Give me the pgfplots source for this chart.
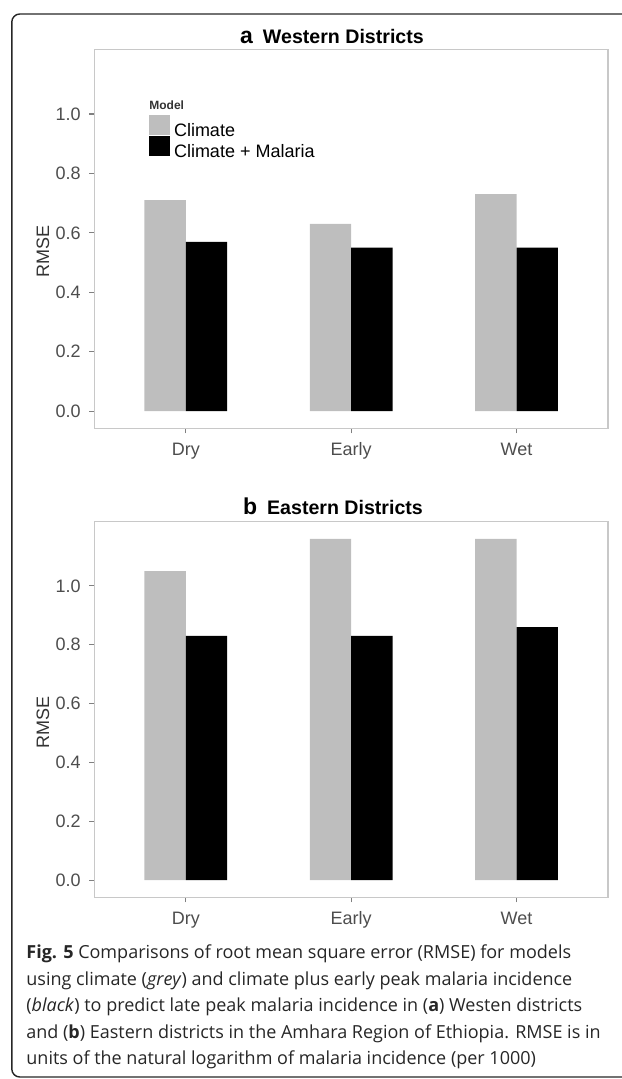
\documentclass[border=0pt]{standalone}
\usepackage{fontspec}
\setmainfont{Liberation Sans}
\newfontfamily\capfont{Open Sans}
\usepackage{pgfplots}
\pgfplotsset{compat=1.18}
\definecolor{bargrey}{HTML}{BEBEBE}
\definecolor{tickgrey}{HTML}{4D4D4D}
\definecolor{framegrey}{HTML}{C8C8C8}

\pgfplotsset{
  rmse/.style={
    scale only axis,
    width=256.85pt,
    xmin=-0.553, xmax=2.553,
    ymin=-0.058, ymax=1.218,
    xtick={0,1,2}, xticklabels={Dry,Early,Wet},
    ytick={0,0.2,0.4,0.6,0.8,1.0},
    /pgf/number format/assume math mode=true,
    yticklabel style={/pgf/number format/fixed, /pgf/number format/fixed zerofill, /pgf/number format/precision=1},
    tick label style={font=\fontsize{9}{9}\selectfont, text=tickgrey, inner sep=0pt},
    xticklabel style={anchor=base, yshift=-11.3pt},
    yticklabel style={anchor=east, xshift=-4.15pt},
    axis line style={framegrey, line width=0.65pt},
    tick style={black!50, line width=0.55pt},
    major tick length=2.5pt, tick align=outside, tick pos=left,
    ylabel={RMSE},
    ylabel style={at={(axis description cs:-0.1,0.466)}, anchor=center, font=\fontsize{9}{9}\selectfont, text=black!80, inner sep=0pt},
    clip=false,
  },
  greybar/.style={ybar, bar width=0.25, bar shift=-0.125, fill=bargrey, draw=none,
    legend image code/.code={\fill[bargrey] (0pt,-1.9pt) rectangle (10.5pt,8.35pt);}},
  blackbar/.style={ybar, bar width=0.25, bar shift=0.125, fill=black, draw=none,
    legend image code/.code={\fill[black] (0pt,-1.9pt) rectangle (10.5pt,8.35pt);}},
}

\pgfplotstableread{
x grey black
0 0.71 0.57
1 0.63 0.55
2 0.73 0.55
}\westdata

\pgfplotstableread{
x grey black
0 1.05 0.83
1 1.16 0.83
2 1.16 0.86
}\eastdata

\begin{document}
\begin{tikzpicture}
\path[use as bounding box] (0pt,0pt) rectangle (310.5pt,-539.5pt);
\draw[black!85, line width=0.7pt, rounded corners=4pt] (5.9pt,-7pt) rectangle (340pt,-538.5pt);

% Panel a
\begin{axis}[rmse, height=189.5pt, at={(47.15pt,-214.15pt)}, anchor=south west,
  legend style={at={(0.1065,0.8267)}, anchor=north west, draw=none, fill=none,
    inner sep=0pt, outer sep=0pt, row sep=-2pt, column sep=2pt,
    font=\fontsize{9}{9}\selectfont, nodes={inner sep=0pt}},
  legend cell align=left]
\addplot[greybar] table[x=x, y=grey] {\westdata};
\addplot[blackbar] table[x=x, y=black] {\westdata};
\legend{Climate, Climate + Malaria}
\end{axis}
\node[anchor=base west, inner sep=0pt, text=black!80] at (74.5pt,-55pt) {\fontsize{6}{6}\selectfont\bfseries Model};
\node[anchor=base, inner sep=0pt] at (166pt,-22pt) {{\fontsize{11.5}{11.5}\selectfont\bfseries a}\hspace{5pt}{\fontsize{9.8}{9.8}\selectfont\bfseries Western Districts}};

% Panel b
\begin{axis}[rmse, height=187.8pt, at={(47.15pt,-448.65pt)}, anchor=south west]
\addplot[greybar] table[x=x, y=grey] {\eastdata};
\addplot[blackbar] table[x=x, y=black] {\eastdata};
\end{axis}
\node[anchor=base, inner sep=0pt] at (166.5pt,-257.25pt) {{\fontsize{11.5}{11.5}\selectfont\bfseries b}\hspace{5pt}{\fontsize{9.8}{9.8}\selectfont\bfseries Eastern Districts}};

% Caption
\begin{scope}[every node/.style={anchor=base west, inner sep=0pt, text=black!85, font=\capfont\fontsize{9}{9}\selectfont}]
\node at (13pt,-479pt) {\textbf{Fig. 5} Comparisons of root mean square error (RMSE) for models};
\node at (13pt,-492.5pt) {using climate (\textit{grey}) and climate plus early peak malaria incidence};
\node at (13pt,-505.5pt) {(\textit{black}) to predict late peak malaria incidence in (\textbf{a}) Westen districts};
\node at (13pt,-519pt) {and (\textbf{b}) Eastern districts in the Amhara Region of Ethiopia. RMSE is in};
\node at (13pt,-532pt) {units of the natural logarithm of malaria incidence (per 1000)};
\end{scope}
\end{tikzpicture}
\end{document}
